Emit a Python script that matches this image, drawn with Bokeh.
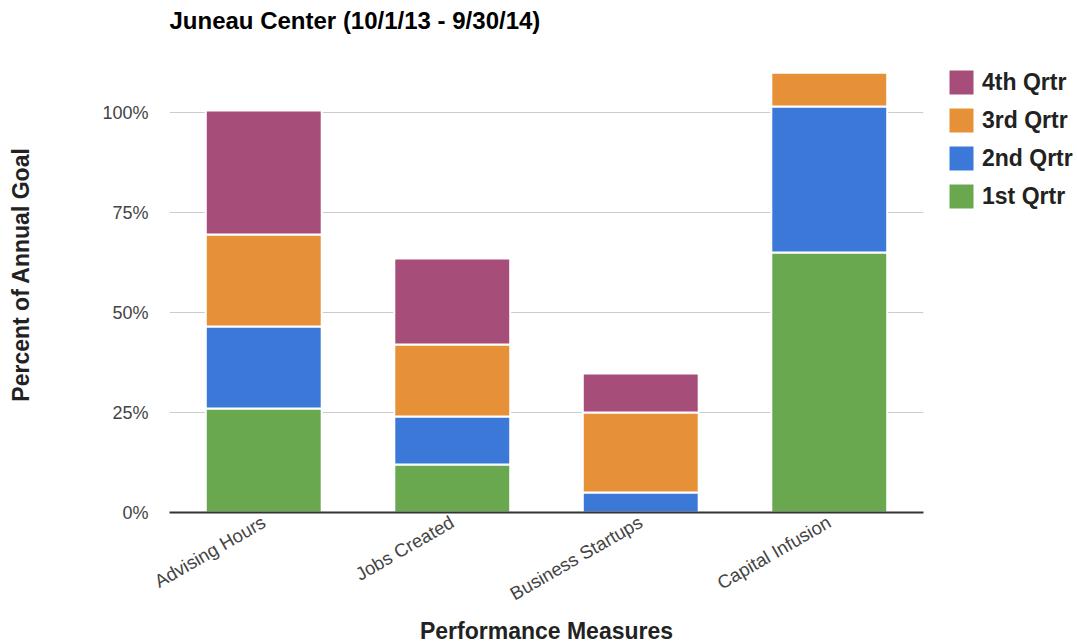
from bokeh.plotting import figure
from bokeh.models import Legend, LegendItem, FixedTicker, PrintfTickFormatter, Range1d, FactorRange
from bokeh.layouts import row
from bokeh.embed import file_html
from bokeh.resources import INLINE
import math

measures = ["Advising Hours", "Jobs Created", "Business Startups", "Capital Infusion"]
q1 = [26, 12, 0, 65]
q2 = [20.5, 12, 5, 36.5]
q3 = [23, 18, 20, 8.5]
q4 = [31, 21.5, 9.75, 0]
series = ["1st Qrtr", "2nd Qrtr", "3rd Qrtr", "4th Qrtr"]
colors = ["#6AA84F", "#3C78D8", "#E69138", "#A64D79"]
y_ticks = [0, 25, 50, 75, 100]

FONT = "Liberation Sans"

data = {"measure": measures, "1st Qrtr": q1, "2nd Qrtr": q2, "3rd Qrtr": q3, "4th Qrtr": q4}

p = figure(x_range=measures, y_range=Range1d(0, 119), frame_width=754, frame_height=476,
           output_backend="svg", toolbar_location=None,
           title="Juneau Center (10/1/13 - 9/30/14)",
           min_border_left=169, min_border_right=5, min_border_top=36, min_border_bottom=131)
p.x_range.range_padding = 0

renderers = p.vbar_stack(series, x="measure", width=0.615, color=colors, source=data,
                         line_color="white", line_width=2)

p.title.text_font = FONT
p.title.text_font_size = "24px"
p.title.text_font_style = "bold"
p.title.text_color = "#000000"
p.title.align = "left"
p.title.vertical_align = "bottom"
p.title.standoff = 6

p.outline_line_color = None
p.xgrid.grid_line_color = None
p.ygrid.grid_line_color = "#cccccc"
p.ygrid.grid_line_width = 1
p.ygrid.ticker = FixedTicker(ticks=y_ticks)

p.yaxis.ticker = FixedTicker(ticks=y_ticks)
p.yaxis.formatter = PrintfTickFormatter(format="%d%%")
p.yaxis.axis_line_color = None
p.yaxis.major_tick_line_color = None
p.yaxis.major_tick_out = 0
p.yaxis.major_tick_in = 0
p.yaxis.minor_tick_line_color = None
p.yaxis.major_label_text_font = FONT
p.yaxis.major_label_text_font_size = "18px"
p.yaxis.major_label_text_color = "#444444"
p.yaxis.major_label_standoff = 21
p.yaxis.axis_label = "Percent of Annual Goal"
p.yaxis.axis_label_text_font = FONT
p.yaxis.axis_label_text_font_size = "23px"
p.yaxis.axis_label_text_font_style = "bold"
p.yaxis.axis_label_text_color = "#222222"
p.yaxis.axis_label_standoff = 65

p.xaxis.axis_line_color = "#333333"
p.xaxis.axis_line_width = 2
p.xaxis.major_tick_line_color = None
p.xaxis.major_tick_out = 0
p.xaxis.major_tick_in = 0
p.xaxis.minor_tick_line_color = None
p.xaxis.major_label_orientation = math.pi / 6
p.xaxis.major_label_text_font = FONT
p.xaxis.major_label_text_font_size = "18.5px"
p.xaxis.major_label_text_color = "#444444"
p.xaxis.major_label_standoff = 8
p.xaxis.axis_label = "Performance Measures"
p.xaxis.axis_label_text_font = FONT
p.xaxis.axis_label_text_font_size = "23px"
p.xaxis.axis_label_text_font_style = "bold"
p.xaxis.axis_label_text_color = "#222222"
p.xaxis.axis_label_standoff = 2

# legend panel: a small figure to the right of the chart, keyed by hidden copies of the series
lg = figure(width=149, height=643, x_range=FactorRange(factors=measures), y_range=Range1d(0, 1),
            output_backend="svg", toolbar_location=None,
            x_axis_location=None, y_axis_location=None, min_border=0)
lg.grid.visible = False
lg.outline_line_color = None
key_renderers = lg.vbar_stack(series, x="measure", width=0.615, color=colors, source=data,
                              line_color=None, visible=False)

items = [LegendItem(label=series[i], renderers=[key_renderers[i]]) for i in [3, 2, 1, 0]]
legend = Legend(items=items, location=(18, 297))
legend.glyph_width = 30
legend.glyph_height = 30
legend.label_height = 30
legend.spacing = 8
legend.label_standoff = 6
legend.padding = 0
legend.margin = 0
legend.border_line_color = None
legend.background_fill_alpha = 0
legend.inactive_fill_alpha = 0
legend.label_text_font = FONT
legend.label_text_font_size = "23px"
legend.label_text_font_style = "bold"
legend.label_text_color = "#222222"
lg.add_layout(legend, "center")

layout = row(p, lg)
open("out.html", "w").write(file_html(layout, INLINE))
